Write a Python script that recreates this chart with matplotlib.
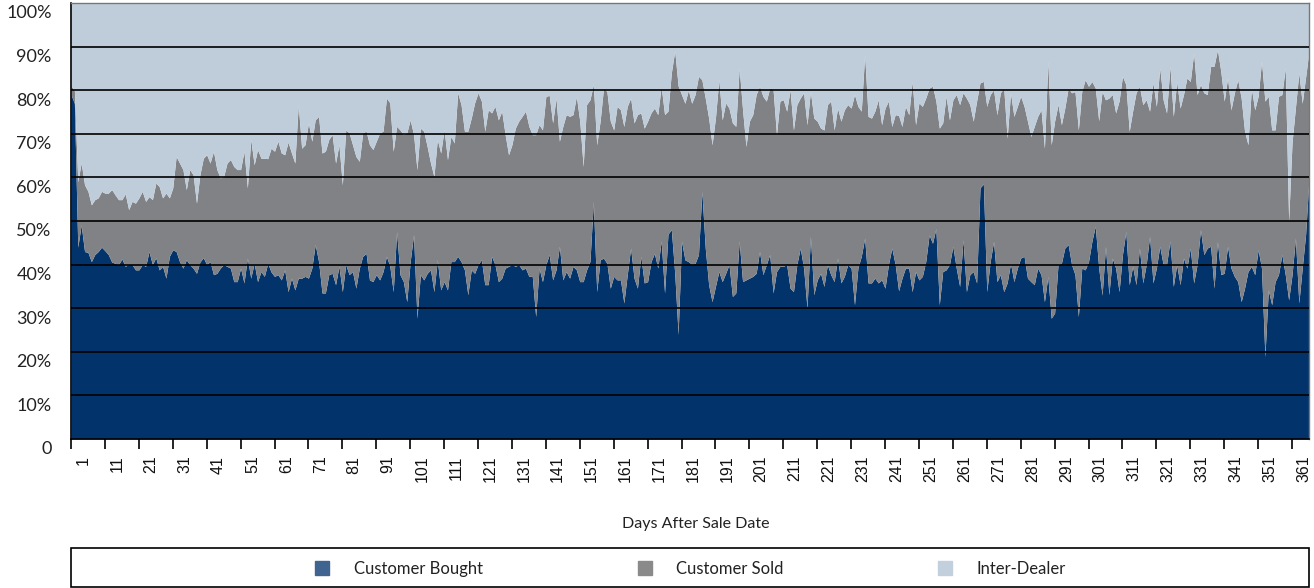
import numpy as np
import matplotlib.pyplot as plt
from matplotlib.lines import Line2D
from matplotlib.patches import Rectangle
import matplotlib.transforms as mtransforms

### share of daily volume (%), one value per day after the sale date (day 1 first)
customer_bought = [
    79, 77, 44, 49.1, 43, 42.8, 40.7, 42.3, 43, 44,
    43.2, 42.3, 40.6, 40.3, 40, 41.3, 39.6, 40.1, 40, 38.8,
    38.8, 40, 39.6, 43, 40, 41.6, 38.8, 39.6, 36.9, 41.9,
    43.4, 43, 40.7, 39.2, 41.1, 40, 39.2, 38, 40.6, 41.6,
    40, 40.7, 37.7, 38, 39.2, 40, 39.6, 39.2, 36.1, 36.1,
    39.2, 35.8, 41.5, 36.9, 40.3, 36.1, 38.4, 37.3, 40.3, 38.3,
    37.3, 37.7, 36.5, 38.8, 33.8, 36.9, 34.2, 36.9, 36.9, 37.3,
    36.9, 39.2, 44.6, 40.7, 33.5, 33.5, 37.7, 38, 35.4, 39.6,
    33.8, 40, 37.7, 38.4, 34.6, 39.2, 41.9, 42.6, 36.5, 36.1,
    37.7, 36.5, 38.4, 41.9, 39.6, 33.8, 47.6, 37.7, 36.1, 31.5,
    40.7, 46.9, 27.7, 37.7, 36.5, 38, 38.8, 33.8, 41.1, 34.2,
    36.1, 34.2, 40.7, 40.7, 41.9, 40.7, 38.8, 33.1, 38.8, 38,
    40, 41.1, 35.4, 35.4, 41.9, 40, 36.1, 36.9, 39.2, 39.6,
    40, 39.6, 40, 38.8, 39.2, 37.3, 37.3, 28.1, 39.2, 36.1,
    40, 42.3, 36.5, 38.8, 44.2, 36.5, 38.4, 36.9, 39.6, 38.8,
    36.1, 36.1, 38.8, 40.7, 54.5, 33.8, 41.1, 41.5, 40.3, 34.6,
    37.3, 36.5, 36.5, 31.2, 37.7, 43.8, 36.9, 34.6, 41.9, 35.8,
    36.1, 40.7, 42.6, 39.2, 45.4, 33.5, 47, 48, 38, 24,
    45.4, 41.1, 40.7, 40.1, 40.3, 42.3, 56.8, 43.8, 35.4, 31.5,
    35, 38.4, 36.1, 38, 40, 32.7, 33.5, 45.4, 36.1, 36.5,
    36.9, 37.3, 38, 43, 37.7, 40, 42.3, 33.5, 38.4, 39.6,
    39.6, 40, 34.6, 33.8, 40, 43.8, 39.2, 30, 46.5, 33.1,
    36.5, 38, 35, 40, 37.7, 36.1, 41.5, 35.8, 37.3, 40,
    39.2, 30.8, 39.2, 41.9, 46.1, 35.8, 35.8, 36.9, 35.8, 36.5,
    34.6, 40, 43.8, 40, 34, 36.9, 39.2, 39.2, 33.8, 38.4,
    36.5, 37.3, 40.7, 46.8, 44.9, 48.3, 30.8, 38.4, 38.8, 40,
    44.2, 39.2, 35, 45.7, 33.8, 37.7, 38.4, 35.8, 57.6, 58.5,
    33.8, 40.7, 45.3, 36.1, 37.7, 33.8, 35.8, 40.3, 36.1, 39.2,
    41.5, 41.9, 36.9, 36.1, 35.4, 39.2, 37.7, 31.5, 37.3, 27.7,
    28.9, 40, 40.3, 43.8, 44.6, 40, 37.7, 28.1, 39.2, 38.8,
    40.7, 45.4, 48.8, 39.2, 33, 44.2, 33.1, 41.5, 39.2, 33.8,
    42.3, 47.6, 35.4, 39.6, 35.4, 43.8, 35.8, 40, 46.5, 35.8,
    39.2, 44.2, 40, 40, 45.4, 35, 40, 35.4, 41.5, 39.2,
    43.8, 35.8, 40, 48, 42.3, 43.8, 44.2, 34.6, 45.3, 37.7,
    38, 44.2, 39.2, 37.3, 36.1, 31.5, 34.6, 38.4, 39.6, 37.7,
    43.4, 39.2, 18.9, 34.2, 30.8, 36.1, 37.7, 42.3, 37.7, 31.9,
    37.7, 46.1, 31.2, 39.2, 46.9, 60,
]

### customer bought + customer sold (top of the grey band), inter-dealer is the rest
bought_and_sold = [
    81, 80, 59, 63.3, 58.3, 56.8, 53.7, 54.9, 55.3, 56.8,
    56.4, 56.4, 57.2, 56, 54.9, 54.9, 56.2, 52.6, 54.5, 54.1,
    55.3, 56.8, 54.5, 55.6, 54.9, 58.7, 57.9, 55.3, 56.4, 55.3,
    57.6, 64.8, 63.3, 61.8, 57.2, 61.8, 60.6, 54.1, 60.6, 64.4,
    65.2, 63.3, 66, 61.8, 59.9, 60.2, 63.3, 64.1, 62.5, 61.8,
    61.8, 66, 57.6, 68.7, 62.9, 66.4, 64.4, 64.4, 64.3, 66.7,
    66, 68.3, 65.6, 65.2, 68.1, 65.6, 63.3, 76.7, 66.7, 67.5,
    72.5, 68.3, 73.2, 74, 65.6, 66, 68.7, 69.8, 63.3, 67.5,
    58.3, 70.9, 70.2, 67.5, 64.8, 63.7, 70.2, 70.6, 67.5, 66.4,
    68.3, 70.2, 70.6, 78.2, 77.1, 66, 71.7, 70.9, 69.8, 70.2,
    73.2, 69.8, 61.8, 71.3, 70.6, 67.1, 63.3, 60.2, 68.7, 65.6,
    70.9, 64.1, 69.4, 67.9, 79.4, 76.7, 70.6, 70.6, 73.6, 77.1,
    79.4, 77.5, 70.6, 75.5, 74.8, 76.3, 73.2, 75.2, 69.8, 65.2,
    67.5, 71.3, 72.9, 74, 75.2, 71.7, 69.8, 69.8, 72.1, 70.9,
    78.6, 78.8, 72.5, 78.2, 68.3, 71.7, 74.4, 74, 74.4, 78.6,
    72.9, 62.5, 76.7, 77.8, 81.3, 67.5, 72.9, 80.5, 79.7, 72.9,
    70.9, 76.3, 75.5, 71.7, 76.3, 78.2, 72.5, 74.4, 74.8, 71.3,
    72.9, 74.8, 75.9, 74.4, 80.9, 74.4, 75.2, 84, 89, 81,
    79, 77, 80, 77, 79, 83.2, 82.4, 78.2, 73.6, 67.5,
    73.6, 82.4, 73.2, 77.1, 75.9, 72.5, 71.7, 85.1, 75.5, 67.1,
    72.9, 74.4, 79, 80.9, 78.6, 77.5, 80.5, 80.1, 69.8, 77.5,
    77.8, 75.2, 80.1, 70.9, 76.7, 78.2, 79.4, 72.1, 79.7, 73.6,
    72.9, 71.3, 70.9, 76.7, 77.5, 70.9, 75.9, 72.9, 75.5, 76.7,
    75.9, 79, 76.3, 75.2, 88.2, 74, 73.6, 75.2, 77.8, 72.1,
    75.9, 77.5, 71.7, 74.4, 74.2, 71.7, 76.3, 74.4, 82, 72.1,
    77.1, 76.3, 78.2, 80.5, 80.9, 77.5, 71.3, 72.5, 78.6, 73.2,
    77.8, 79, 76.7, 79.4, 78.2, 76.7, 72.9, 77.5, 81.7, 82,
    76.3, 79, 80.1, 74.4, 79.4, 80.5, 69, 79.4, 74, 76.3,
    78.6, 76.3, 72.9, 69.4, 71.7, 74, 75.5, 66.7, 86.6, 67.5,
    72.9, 76.7, 72.1, 75.9, 80.5, 79.4, 79.7, 70.9, 79.7, 82.4,
    80.9, 82, 80.5, 73, 79.7, 77.8, 78.2, 79, 74.8, 77.5,
    83.2, 81.3, 70.6, 75.2, 79.4, 80.9, 76.7, 77.8, 75.2, 81.7,
    76.3, 85.1, 77.8, 74.8, 85.5, 74, 82, 75.9, 79, 82.8,
    82, 88.5, 79, 81.3, 79.4, 79, 85.5, 85.5, 89.3, 84.3,
    77.5, 82.8, 75.5, 79.4, 82.4, 78.2, 70.6, 67.5, 80.5, 75.5,
    78.6, 86.6, 77.5, 78.6, 70.9, 70.9, 78.6, 79, 85.1, 50,
    68, 76, 84, 77, 83, 89,
]

series_names = ["Customer Bought", "Customer Sold", "Inter-Dealer"]
day_labels = ["1", "11", "21", "31", "41", "51", "61", "71", "81", "91",
              "101", "111", "121", "131", "141", "151", "161", "171", "181", "191",
              "201", "211", "221", "231", "241", "251", "261", "271", "281", "291",
              "301", "311", "321", "331", "341", "351", "361"]
pct_labels = ["0", "10%", "20%", "30%", "40%", "50%", "60%", "70%", "80%", "90%", "100%"]

blue = "#02346b"
grey = "#818285"
light = "#bfcddb"
legend_colors = ["#3f6490", "#8a8a8a", "#c2cfdc"]

W, H = 1314, 588
fig = plt.figure(figsize=(W / 100, H / 100), dpi=100)
ax = fig.add_axes([71 / W, 1 - 439 / H, 1238 / W, 436 / H])

x = np.arange(len(customer_bought))
bought = np.array(customer_bought)
top = np.array(bought_and_sold)

ax.fill_between(x, 0, bought, color=blue, lw=0)
ax.fill_between(x, bought, top, color=grey, lw=0)
ax.fill_between(x, top, 100, color=light, lw=0)

for v in range(10, 100, 10):
    ax.axhline(v, color="black", lw=1.2, zorder=3)

ax.set_xlim(0, len(x) - 1)
ax.set_ylim(0, 100)

# tick marks every 10 days, labels sit between them
ax.set_xticks(np.arange(0, 361, 10))
ax.set_xticklabels([])
ax.set_xticks(np.arange(0, 361, 10) + 3.5, minor=True)
ax.set_xticklabels(day_labels, minor=True, rotation=90, fontsize=11.5,
                   family="Liberation Sans", color="#111111")
ax.tick_params(axis="x", which="major", length=7, width=1.2, color="black", direction="out")
ax.tick_params(axis="x", which="minor", length=0, pad=12)

ax.set_yticks(np.arange(0, 101, 10))
ax.set_yticklabels(pct_labels, fontsize=13, family="Lato", color="#222222")
ax.tick_params(axis="y", length=0, pad=14)
shift = mtransforms.ScaledTranslation(0, -0.09, fig.dpi_scale_trans)
for lab in ax.get_yticklabels():
    lab.set_transform(lab.get_transform() + shift)

for side in ["left", "bottom"]:
    ax.spines[side].set_color("black")
    ax.spines[side].set_linewidth(1.2)
for side in ["top", "right"]:
    ax.spines[side].set_color("#777777")
    ax.spines[side].set_linewidth(1)

fig.text(696 / W, 1 - 524 / H, "Days After Sale Date", ha="center", va="center",
         fontsize=11.5, family="Lato", color="#222222")

# legend box under the chart
fig.patches.append(Rectangle((71 / W, 1 - 587 / H), 1238 / W, 39 / H, transform=fig.transFigure,
                             fill=False, edgecolor="black", lw=1.2))
handles = [Line2D([], [], marker="s", ls="none", markersize=10, color=c) for c in legend_colors]
fig.legend(handles, series_names, loc="center", bbox_to_anchor=(690 / W, 1 - 569 / H), ncol=3,
           frameon=False, prop={"family": "Lato", "size": 12}, handlelength=1,
           handletextpad=1.4, columnspacing=9.2, labelcolor="#222222")

fig.savefig("out.png", dpi=100)
